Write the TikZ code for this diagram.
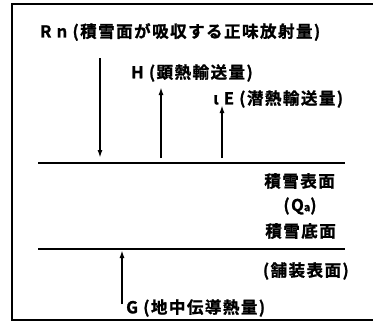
\documentclass[tikz,border=0pt]{standalone}
\usepackage{fontspec}
\usetikzlibrary{arrows.meta}
\setmainfont{Noto Sans CJK JP}[BoldFont={* Bold},BoldFeatures={FakeBold=1.2},LetterSpace=9]
\begin{document}
\begin{tikzpicture}[x=1pt,y=-1pt,
  lbl/.style={inner sep=0pt,font=\fontsize{16.5}{16.5}\selectfont\bfseries},
  surf/.style={line width=2pt},
  flux/.style={line width=1.7pt,-{Latex[length=8pt,width=5pt]}},
  frame/.style={line width=1.5pt}]
\useasboundingbox (0,0) rectangle (373,322);
\draw[frame] (373,4) -- (12,4) -- (12,320) -- (373,320);
% labels
\node[lbl,anchor=west] (rn) at (40,32) {R n (積雪面が吸収する正味放射量)};
\node[lbl,anchor=west] (h) at (131,73) {H (顕熱輸送量)};
\node[lbl,anchor=west] (e) at (213,99) {ι E (潜熱輸送量)};
\node[lbl,anchor=east] (ss) at (335,181) {積雪表面};
\node[lbl] (qa) at (300,206) {(Q{\fontsize{11}{11}\selectfont a})};
\node[lbl,anchor=east] (sb) at (336,231) {積雪底面};
\node[lbl,anchor=east] (pv) at (349,271) {(舗装表面)};
\node[lbl,anchor=west] (g) at (126,308) {G (地中伝導熱量)};
% surfaces
\coordinate (s1l) at (38,163); \coordinate (s1r) at (345,163);
\coordinate (s2l) at (38,249); \coordinate (s2r) at (345,249);
\draw[surf] (s1l) -- (s1r);
\draw[surf] (s2l) -- (s2r);
% arrows
\coordinate (a1) at (100,58); \coordinate (a1e) at (100,158);
\coordinate (a2) at (161,158); \coordinate (a2e) at (161,87);
\coordinate (a3) at (222,158); \coordinate (a3e) at (222,105);
\coordinate (a4) at (122,304); \coordinate (a4e) at (122,250);
\draw[flux] (a1) -- (a1e);
\draw[flux] (a2) -- (a2e);
\draw[flux] (a3) -- (a3e);
\draw[flux] (a4) -- (a4e);
\end{tikzpicture}
\end{document}
